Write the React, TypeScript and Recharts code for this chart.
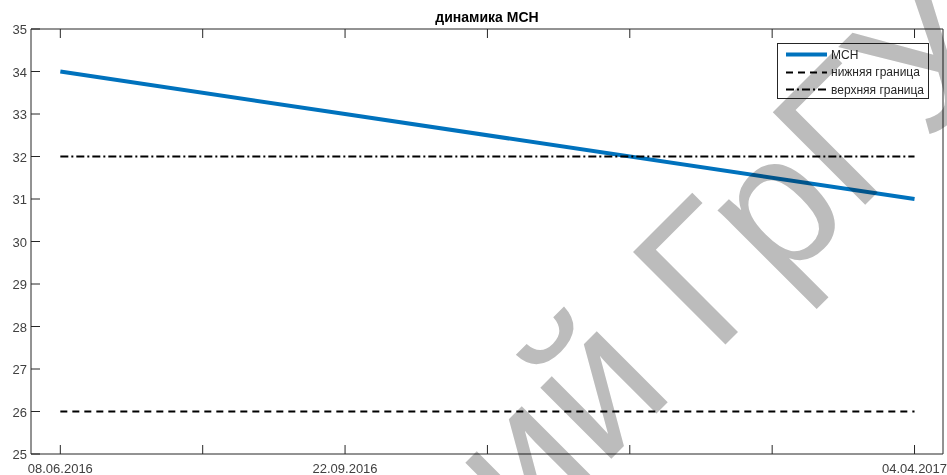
import React from 'react';
import { LineChart, Line, XAxis, YAxis, Legend } from 'recharts';

// x positions are tick indices (7 evenly spaced ticks, only 3 labelled)
const xTicks = [0, 1, 2, 3, 4, 5, 6];
const xLabels = ['08.06.2016', '', '22.09.2016', '', '', '', '04.04.2017'];
const yTicks = [25, 26, 27, 28, 29, 30, 31, 32, 33, 34, 35];

const mchX = [0, 2, 6];
const mchValues = [34, 33, 31];
const boundX = [0, 6];
const lowerBound = [26, 26];
const upperBound = [32, 32];

const series = [
  { key: 'mch', name: 'МСН', color: '#0072BD', width: 4, dash: undefined as string | undefined },
  { key: 'lower', name: 'нижняя граница', color: '#000000', width: 2, dash: '7 5' },
  { key: 'upper', name: 'верхняя граница', color: '#000000', width: 2, dash: '8 3 2 3' },
];

const data = xTicks
  .filter(x => mchX.includes(x) || boundX.includes(x))
  .map(x => ({
    x,
    mch: mchX.includes(x) ? mchValues[mchX.indexOf(x)] : null,
    lower: boundX.includes(x) ? lowerBound[boundX.indexOf(x)] : null,
    upper: boundX.includes(x) ? upperBound[boundX.indexOf(x)] : null,
  }));

const FONT = '"Liberation Sans", Arial, Helvetica, sans-serif';
const AXIS = '#262626';
const TEXT = '#404040';
const TICK_LEN = 9;

const BottomTick = (props: any) => {
  const { x, y, payload } = props;
  const label = xLabels[payload.value] || '';
  return (
    <g>
      <line x1={x} x2={x} y1={y} y2={y - TICK_LEN} stroke={AXIS} strokeWidth={1} />
      {label && (
        <text x={x} y={y + 19} textAnchor="middle" fontSize={13} fontFamily={FONT} fill={TEXT}>
          {label}
        </text>
      )}
    </g>
  );
};

const TopTick = (props: any) => {
  const { x, y } = props;
  return <line x1={x} x2={x} y1={y} y2={y + TICK_LEN} stroke={AXIS} strokeWidth={1} />;
};

const LeftTick = (props: any) => {
  const { x, y, payload } = props;
  return (
    <g>
      <line x1={x} x2={x + TICK_LEN} y1={y} y2={y} stroke={AXIS} strokeWidth={1} />
      <text x={x - 4} y={y + 5} textAnchor="end" fontSize={13} fontFamily={FONT} fill={TEXT}>
        {payload.value}
      </text>
    </g>
  );
};

const RightTick = (props: any) => {
  const { x, y } = props;
  return <line x1={x} x2={x - TICK_LEN} y1={y} y2={y} stroke={AXIS} strokeWidth={1} />;
};

const LegendBox = () => (
  <div
    style={{
      width: 152,
      height: 56,
      border: `1px solid ${AXIS}`,
      background: '#fff',
      fontFamily: FONT,
      fontSize: 12,
      color: '#262626',
      boxSizing: 'border-box',
      paddingTop: 2,
      whiteSpace: 'nowrap',
    }}
  >
    {series.map(s => (
      <div key={s.key} style={{ display: 'flex', alignItems: 'center', height: 17.5 }}>
        <svg width={52} height={17} style={{ display: 'block', flex: 'none' }}>
          <line x1={8} x2={49} y1={8.5} y2={8.5} stroke={s.color} strokeWidth={s.width} strokeDasharray={s.dash} />
        </svg>
        <span style={{ marginLeft: 1 }}>{s.name}</span>
      </div>
    ))}
  </div>
);

export default function App() {
  return (
    <div style={{ position: 'absolute', left: 0, top: 0, width: 947, height: 475, background: '#fff' }}>
      <div
        style={{
          position: 'absolute', left: 31, width: 912, top: 8, textAlign: 'center',
          fontFamily: FONT, fontSize: 14, fontWeight: 'bold', color: '#000', lineHeight: '18px',
        }}
      >
        динамика МСН
      </div>
      <LineChart width={947} height={475} data={data} margin={{ top: 28, right: 3, bottom: 0, left: 0 }}>
        <XAxis
          dataKey="x" type="number" domain={[-0.206, 6.2]} ticks={xTicks} interval={0}
          height={21} tickSize={0} tickMargin={0} tickLine={false}
          axisLine={{ stroke: AXIS }} tick={<BottomTick />}
        />
        <XAxis
          xAxisId="top" orientation="top" dataKey="x" type="number" domain={[-0.206, 6.2]} ticks={xTicks} interval={0}
          height={1} tickSize={0} tickMargin={0} tickLine={false}
          axisLine={{ stroke: AXIS }} tick={<TopTick />}
        />
        <YAxis
          type="number" domain={[25, 35]} ticks={yTicks} interval={0} width={31}
          tickSize={0} tickMargin={0} tickLine={false} axisLine={{ stroke: AXIS }} tick={<LeftTick />}
        />
        <YAxis
          yAxisId="right" orientation="right" type="number" domain={[25, 35]} ticks={yTicks} interval={0} width={1}
          tickSize={0} tickMargin={0} tickLine={false} axisLine={{ stroke: AXIS }} tick={<RightTick />}
        />
        <Legend
          layout="horizontal" verticalAlign="middle" align="center"
          content={<LegendBox />}
          wrapperStyle={{ position: 'absolute', left: 777, top: 43, width: 152, height: 56 }}
        />
        {series.map(s => (
          <Line
            key={s.key} dataKey={s.key} name={s.name} type="linear" stroke={s.color}
            strokeWidth={s.width} strokeDasharray={s.dash} dot={false} activeDot={false}
            connectNulls isAnimationActive={false}
          />
        ))}
      </LineChart>
      <svg
        width={947} height={475}
        style={{ position: 'absolute', left: 0, top: 0, pointerEvents: 'none', mixBlendMode: 'multiply' }}
      >
        <text
          x={527} y={543} fontSize={190} fontFamily={FONT} fill="#bcbcbc"
          transform="rotate(-45 527 543)"
        >
          ий ГрГУ
        </text>
      </svg>
    </div>
  );
}
